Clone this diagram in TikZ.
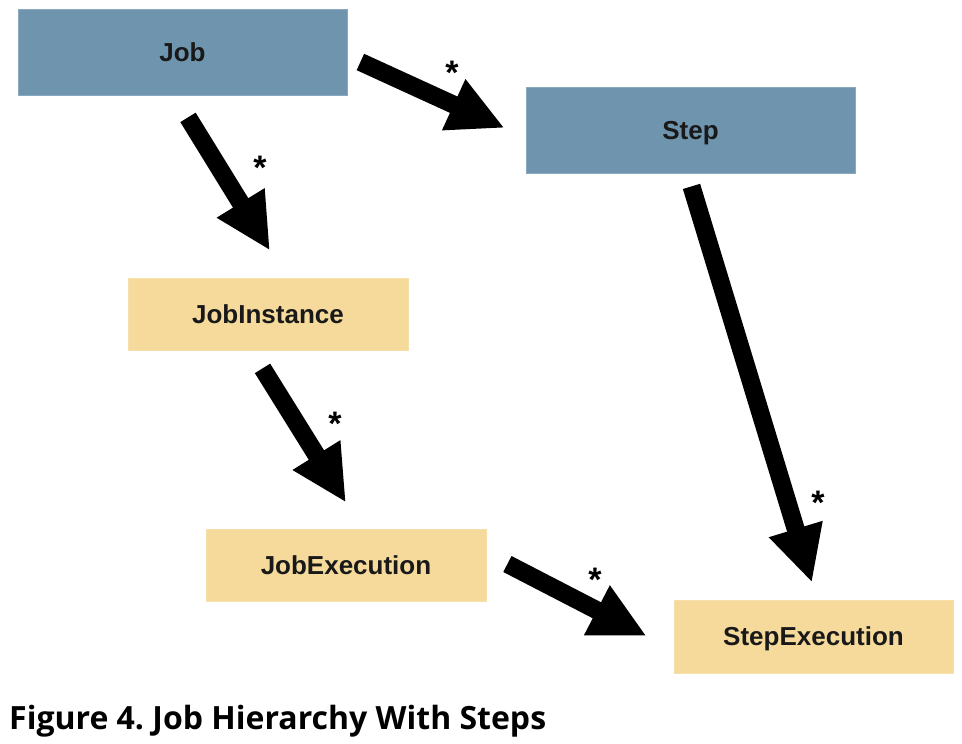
\documentclass[tikz,border=0pt]{standalone}
\usepackage{fontspec}
\setmainfont{Liberation Sans}
\newfontfamily\captionfont{Open Sans}
\usetikzlibrary{arrows.meta}
\definecolor{bluebox}{HTML}{6E94AE}
\definecolor{yellowbox}{HTML}{F5DA9B}
\tikzset{
  boxbase/.style={anchor=center, inner sep=0pt, text height=20pt, text depth=2pt, font=\fontsize{26}{30}\selectfont\bfseries, text=black!90},
  bluenode/.style={boxbase, fill=bluebox, draw=bluebox!80!white, line width=0.8pt},
  yellownode/.style={boxbase, fill=yellowbox, draw=yellowbox!85!white, line width=0.8pt},
  bigarrow/.style={line width=18pt, line cap=butt, -{Triangle[length=56pt,width=52pt]}},
  starlabel/.style={font=\fontsize{34}{38}\selectfont\bfseries, inner sep=0pt}
}
\begin{document}
\begin{tikzpicture}[x=1pt,y=-1pt]
\useasboundingbox (0,0) rectangle (962,744);
\fill[white] (0,0) rectangle (962,744);
\node[bluenode, minimum width=329pt, minimum height=86pt] (job) at (182.5,52) {Job};
\node[bluenode, minimum width=329pt, minimum height=86pt] (step) at (690.5,130) {Step};
\node[yellownode, minimum width=280pt, minimum height=72pt] (ji) at (268,314) {JobInstance};
\node[yellownode, minimum width=280pt, minimum height=72pt] (je) at (346,565) {JobExecution};
\node[yellownode, minimum width=279pt, minimum height=73pt] (se) at (813.5,636.5) {StepExecution};

\draw[bigarrow] ([shift={(13,10)}]job.east) -- ([shift={(-21,-2)}]step.west);
\draw[bigarrow] ([shift={(5.5,22)}]job.south) -- ([shift={(2,-27)}]ji.north);
\draw[bigarrow] ([shift={(-5.5,18)}]ji.south) -- ([shift={(0,-26)}]je.north);
\draw[bigarrow] ([shift={(1,13)}]step.south) -- ([shift={(-1.5,-17)}]se.north);
\draw[bigarrow] ([shift={(21,-1)}]je.east) -- ([shift={(-27,-0.5)}]se.west);

\node[starlabel] (s1) at (452,73) {*};
\node[starlabel] (s2) at (260,168) {*};
\node[starlabel] (s3) at (335,424) {*};
\node[starlabel] (s4) at (818,503) {*};
\node[starlabel] (s5) at (595,580) {*};

\node[anchor=base west, inner sep=0pt, font=\captionfont\fontsize{32}{36}\selectfont\bfseries] (cap) at (9,729) {Figure 4.\ Job Hierarchy With Steps};
\end{tikzpicture}
\end{document}
